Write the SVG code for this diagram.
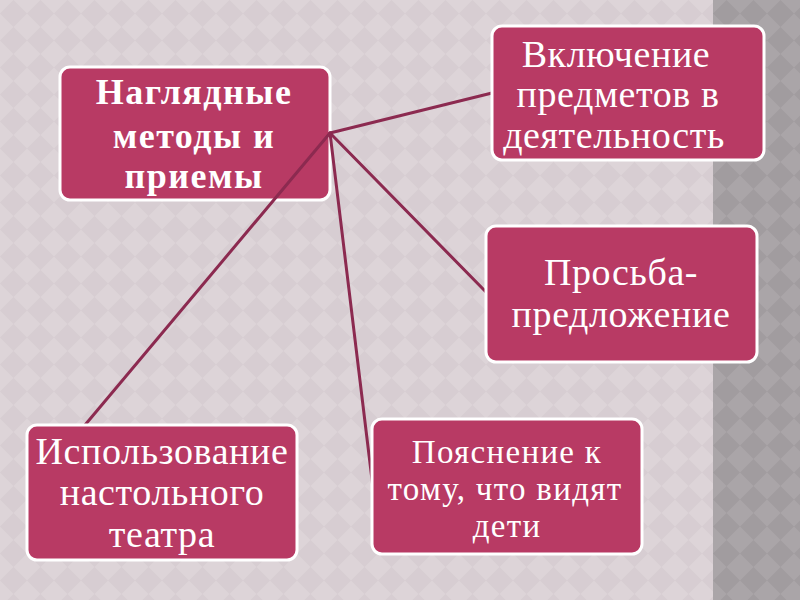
<svg xmlns="http://www.w3.org/2000/svg" width="800" height="600" viewBox="0 0 800 600">
  <defs>
    <pattern id="bgp" x="0" y="0" width="27" height="27" patternUnits="userSpaceOnUse">
      <rect width="27" height="27" fill="#ddd4d8"/>
      <polygon points="13.5,0 27,13.5 13.5,27 0,13.5" fill="#d7cdd2"/>
    </pattern>
    <pattern id="stp" x="713" y="0" width="27" height="27" patternUnits="userSpaceOnUse">
      <rect width="27" height="27" fill="#aaa5a8"/>
      <polygon points="13.5,0 27,13.5 13.5,27 0,13.5" fill="#a19c9f"/>
    </pattern>
  </defs>
  <style>
    .box { fill: #b83a64; stroke: #ffffff; stroke-width: 3; }
    .t { font-family: "Liberation Serif", "Times New Roman", serif; fill: #ffffff; text-anchor: middle; font-size: 38px; letter-spacing: 0.6px; }
    .b { font-weight: bold; font-size: 36px; letter-spacing: 1.5px; }
    .s { font-size: 33px; letter-spacing: 1.3px; }
    .conn line { stroke: #8c2a50; stroke-width: 3; stroke-linecap: round; }
  </style>
  <rect x="0" y="0" width="800" height="600" fill="url(#bgp)"/>
  <rect x="713" y="0" width="87" height="600" fill="url(#stp)"/>

  <g id="node-main">
    <rect class="box" x="60" y="67" width="270" height="133" rx="10"/>
    <text class="t b" x="194" y="104">Наглядные</text>
    <text class="t b" x="194" y="148">методы и</text>
    <text class="t b" x="194" y="188">приемы</text>
  </g>

  <g id="connectors" class="conn">
    <line x1="330" y1="133" x2="492" y2="93"/>
    <line x1="330" y1="133" x2="486" y2="292"/>
    <line x1="330" y1="133" x2="373" y2="488"/>
    <line x1="330" y1="133" x2="85" y2="425"/>
  </g>

  <g id="node-inclusion">
    <rect class="box" x="492" y="26" width="272" height="134" rx="10"/>
    <text class="t" x="616" y="67">Включение</text>
    <text class="t" x="618" y="107">предметов в</text>
    <text class="t" x="614" y="148">деятельность</text>
  </g>

  <g id="node-request">
    <rect class="box" x="486" y="226" width="271" height="136" rx="10"/>
    <text class="t" x="621" y="285">Просьба-</text>
    <text class="t" x="621" y="327">предложение</text>
  </g>

  <g id="node-theatre">
    <rect class="box" x="27" y="425" width="270" height="135" rx="10"/>
    <text class="t" x="162" y="464">Использование</text>
    <text class="t" x="162" y="505">настольного</text>
    <text class="t" x="162" y="547">театра</text>
  </g>

  <g id="node-explain">
    <rect class="box" x="372" y="419" width="270" height="135" rx="10"/>
    <text class="t s" x="507" y="463">Пояснение к</text>
    <text class="t s" x="505" y="500">тому, что видят</text>
    <text class="t s" x="507" y="537">дети</text>
  </g>
</svg>
